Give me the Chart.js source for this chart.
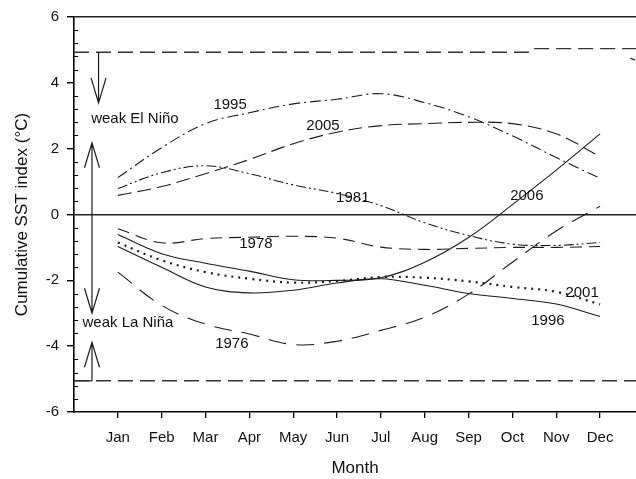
<!DOCTYPE html>
<html>
<head>
<meta charset="utf-8">
<script src="https://cdn.jsdelivr.net/npm/chart.js@4.4.1/dist/chart.umd.min.js"></script>
<style>
  html, body { margin: 0; padding: 0; background: #fff; }
  #wrap { width: 636px; height: 479px; }
</style>
</head>
<body>
<div id="wrap"><canvas id="chart" width="636" height="479"></canvas></div>
<script>
// ====== данные ======
const months = ['Jan','Feb','Mar','Apr','May','Jun','Jul','Aug','Sep','Oct','Nov','Dec'];
const monthX = [1,2,3,4,5,6,7,8,9,10,11,12];

const y1995 = [1.12, 2.03, 2.76, 3.09, 3.36, 3.50, 3.67, 3.40, 2.97, 2.39, 1.73, 1.10];
const y2005 = [0.58, 0.85, 1.24, 1.67, 2.15, 2.50, 2.70, 2.76, 2.80, 2.76, 2.45, 1.76];
const y1981 = [0.79, 1.27, 1.48, 1.24, 0.90, 0.64, 0.27, -0.25, -0.64, -0.90, -0.94, -0.85];
const y2006 = [-0.61, -1.19, -1.48, -1.72, -1.98, -2.00, -1.92, -1.45, -0.70, 0.30, 1.35, 2.45];
const y1996 = [-0.97, -1.60, -2.20, -2.38, -2.30, -2.08, -1.95, -2.15, -2.40, -2.55, -2.72, -3.10];
const y2001 = [-0.85, -1.39, -1.75, -1.95, -2.07, -2.02, -1.90, -1.92, -2.03, -2.20, -2.35, -2.73];
const y1978 = [-0.43, -0.86, -0.73, -0.69, -0.66, -0.72, -0.99, -1.06, -1.03, -1.00, -1.00, -0.97];
const y1976 = [-1.75, -2.76, -3.33, -3.63, -3.95, -3.85, -3.52, -3.12, -2.42, -1.45, -0.50, 0.25];

// пороги ±5
const upperX = [0, 10.36, 10.42, 12.82];
const upperY = [4.93, 4.93, 5.04, 5.04];
const edgeX  = [12.69, 12.80];
const edgeY  = [4.75, 4.69];
const lowerX = [0, 12.82];
const lowerY = [-5.05, -5.05];
const stubX  = [0, 0.41];
const stubY  = [-5.05, -5.05];

// стрелки (хвост -> острие)
const arrowTailX = [0.56, 0.41, 0.41, 0.41];
const arrowTailY = [4.93, 0, 0, -5.05];
const arrowTipX  = [0.56, 0.41, 0.41, 0.41];
const arrowTipY  = [3.39, 2.18, -3.00, -3.88];

// подписи
const noteText = ['1995','2005','1981','2006','1978','1976','2001','1996','weak El Niño','weak La Niña'];
const noteX    = [3.56, 5.68, 6.36, 10.33, 4.15, 3.60, 11.59, 10.81, 1.39, 1.23];
const noteY    = [3.33, 2.70, 0.52, 0.58, -0.88, -3.94, -2.39, -3.24, 2.91, -3.30];

const FONT = '"Liberation Sans", Arial, sans-serif';
const INK = '#1c1c1c';

const pts = (xs, ys) => xs.map((x, i) => ({x, y: ys[i]}));

function curve(ys, dash, width){
  return {
    data: pts(monthX, ys), borderColor: INK, borderWidth: width || 1.1,
    borderDash: dash || [], tension: 0.38, pointRadius: 0, fill: false
  };
}
function straight(xs, ys, dash){
  return {
    data: pts(xs, ys), borderColor: '#333', borderWidth: 1.4,
    borderDash: dash || [], tension: 0, pointRadius: 0, fill: false
  };
}

// ====== плагин: малые деления, стрелки, подписи ======
const extras = {
  id: 'extras',
  afterDatasetsDraw(chart){
    const {ctx, scales:{x, y}, chartArea} = chart;
    ctx.save();
    ctx.strokeStyle = '#000';
    ctx.lineWidth = 1;
    // малые деления внутрь, шаг 0.4
    for (let k = 0; k <= 30; k++){
      if (k % 5 === 0) continue;
      const py = Math.round(y.getPixelForValue(-6 + 0.4*k)) + 0.5;
      ctx.beginPath();
      ctx.moveTo(chartArea.left, py);
      ctx.lineTo(chartArea.left + 4, py);
      ctx.stroke();
    }
    // стрелки
    ctx.strokeStyle = INK;
    ctx.lineWidth = 1.2;
    for (let i = 0; i < arrowTipX.length; i++){
      const x0 = x.getPixelForValue(arrowTailX[i]), y0 = y.getPixelForValue(arrowTailY[i]);
      const x1 = x.getPixelForValue(arrowTipX[i]),  y1 = y.getPixelForValue(arrowTipY[i]);
      const len = Math.hypot(x1-x0, y1-y0) || 1;
      const ux = (x1-x0)/len, uy = (y1-y0)/len;
      ctx.beginPath();
      ctx.moveTo(x0, y0); ctx.lineTo(x1, y1);
      ctx.moveTo(x1 - ux*25 - uy*7.5, y1 - uy*25 + ux*7.5);
      ctx.lineTo(x1, y1);
      ctx.lineTo(x1 - ux*25 + uy*7.5, y1 - uy*25 - ux*7.5);
      ctx.stroke();
    }
    // текст
    ctx.fillStyle = '#111';
    ctx.font = '15px ' + FONT;
    ctx.textAlign = 'center';
    ctx.textBaseline = 'middle';
    noteText.forEach((t, i) => {
      ctx.fillText(t, x.getPixelForValue(noteX[i]), y.getPixelForValue(noteY[i]));
    });
    ctx.restore();
  }
};

new Chart(document.getElementById('chart').getContext('2d'), {
  type: 'line',
  data: {
    datasets: [
      straight(upperX, upperY, [15, 7]),
      straight(edgeX, edgeY),
      straight(lowerX, lowerY, [15, 7]),
      straight(stubX, stubY),
      curve(y1995, [11, 4, 2, 4]),
      curve(y2005, [14, 6]),
      curve(y1981, [10, 3, 2, 3, 2, 3]),
      curve(y2006, []),
      curve(y1996, []),
      curve(y2001, [2, 5], 2.2),
      curve(y1978, [12, 7]),
      curve(y1976, [18, 10])
    ]
  },
  options: {
    responsive: false,
    devicePixelRatio: 1,
    animation: false,
    layout: { padding: { top: 16, right: 0, left: 0, bottom: 0 } },
    plugins: { legend: { display: false }, tooltip: { enabled: false } },
    scales: {
      x: {
        type: 'linear', min: 0, max: 12.82,
        afterBuildTicks: s => { s.ticks = monthX.map(v => ({value: v})); },
        afterFit: s => { s.height = 67; },
        ticks: {
          callback: v => months[v - 1] || '',
          font: { size: 15, family: FONT }, color: '#111',
          maxRotation: 0, autoSkip: false, padding: 11
        },
        grid: { color: 'transparent', tickColor: '#000', tickLength: 6, drawOnChartArea: false, lineWidth: 1.3 },
        border: { display: true, color: '#000', width: 1.6 },
        title: { display: true, text: 'Month', font: { size: 17, family: FONT }, color: '#111', padding: { top: 4, bottom: 0 } }
      },
      y: {
        min: -6, max: 6,
        afterFit: s => { s.width = 74; },
        ticks: {
          stepSize: 2, callback: v => String(v),
          font: { size: 15, family: FONT }, color: '#111', padding: 8
        },
        grid: {
          color: c => (c.tick && (c.tick.value === 0 || c.tick.value === 6)) ? '#222' : 'transparent',
          tickColor: '#000', tickLength: 7, lineWidth: 1.4
        },
        border: { display: true, color: '#000', width: 1.6 },
        title: { display: true, text: 'Cumulative SST index (°C)', font: { size: 17, family: FONT }, color: '#111', padding: { top: 12, bottom: 0 } }
      }
    }
  },
  plugins: [extras]
});
</script>
</body>
</html>
